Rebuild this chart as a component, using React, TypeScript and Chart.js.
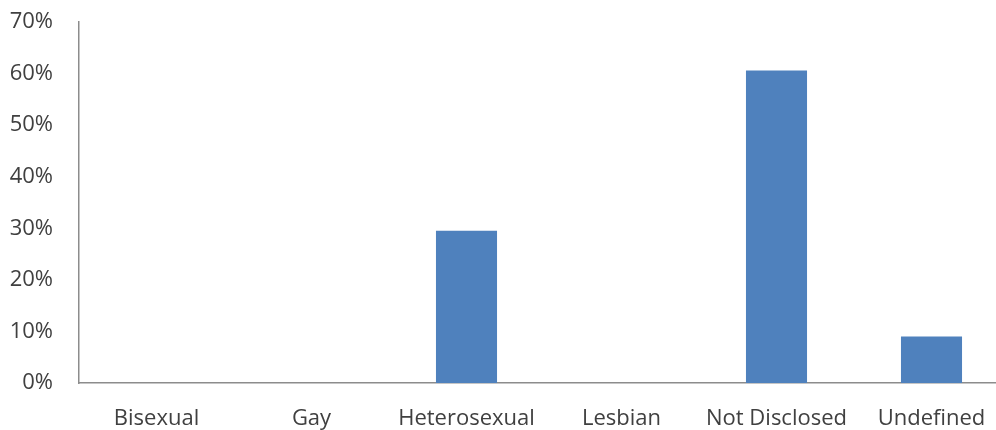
import React, { useEffect, useRef } from "react";
import { Chart, registerables } from "chart.js";

Chart.register(...registerables);

const categories = ["Bisexual", "Gay", "Heterosexual", "Lesbian", "Not Disclosed", "Undefined"];
const values = [0, 0, 29.5, 0, 60.6, 9.0];
const yTicks = [0, 10, 20, 30, 40, 50, 60, 70];

export default function App() {
  const ref = useRef<HTMLCanvasElement | null>(null);
  useEffect(() => {
    if (!ref.current) return;
    const font = { family: "'Open Sans', 'Liberation Sans', sans-serif", size: 22 };
    const chart = new Chart(ref.current, {
      type: "bar",
      data: {
        labels: categories,
        datasets: [
          {
            data: values,
            backgroundColor: "#4F81BD",
            barPercentage: 1,
            categoryPercentage: 0.394,
          },
        ],
      },
      options: {
        animation: false,
        responsive: true,
        maintainAspectRatio: false,
        layout: { padding: { top: 22, right: 11, left: 0, bottom: 0 } },
        plugins: { legend: { display: false }, tooltip: { enabled: false } },
        scales: {
          x: {
            grid: { display: false, drawTicks: false },
            border: { display: true, color: "#8c8c8c", width: 1.5 },
            ticks: { color: "#404040", font, padding: 23, maxRotation: 0, autoSkip: false },
            afterFit: (s: any) => {
              s.height = 47;
            },
          },
          y: {
            min: 0,
            max: 70,
            afterBuildTicks: (s: any) => {
              s.ticks = yTicks.map((v) => ({ value: v }));
            },
            grid: { display: false, drawTicks: false },
            border: { display: true, color: "#8c8c8c", width: 1.5 },
            ticks: {
              color: "#404040",
              font,
              padding: 26,
              callback: (v: any) => v + "%",
            },
            afterFit: (s: any) => {
              s.width = 79;
              s.paddingTop = 12;
              s.paddingBottom = 12;
            },
          },
        },
      },
    });
    return () => chart.destroy();
  }, []);
  return (
    <div style={{ position: "fixed", left: 0, top: 0, width: 996, height: 430, overflow: "hidden", background: "#fff" }}>
      <div style={{ position: "relative", width: 1020, height: 430 }}>
        <canvas ref={ref} />
      </div>
    </div>
  );
}
